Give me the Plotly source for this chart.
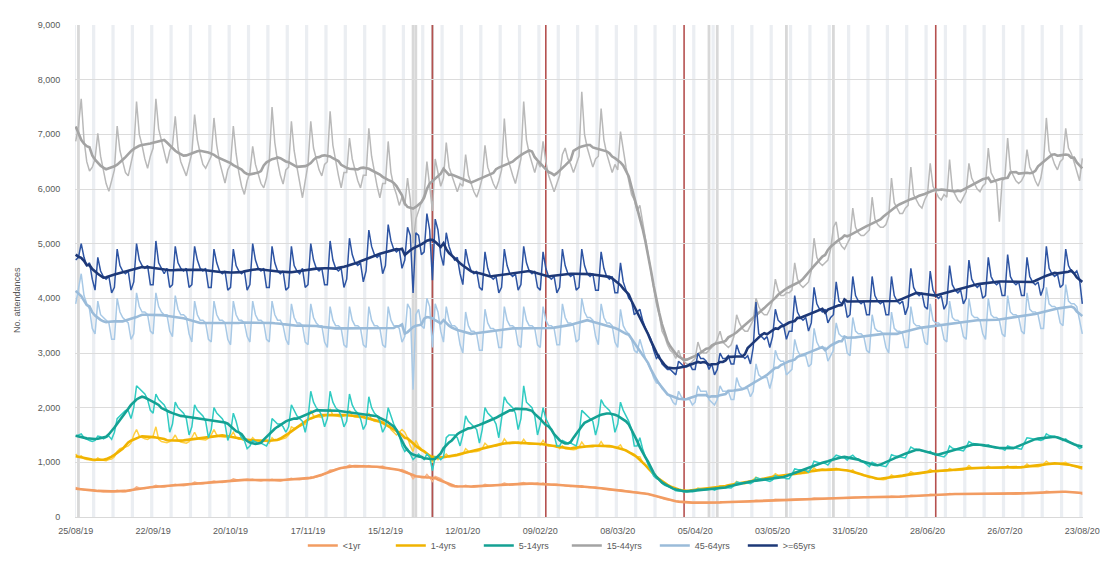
import pandas as pd
import plotly.graph_objects as go

start_date = "2019-08-25"
end_date = "2020-08-23"

series_names = ["<1yr", "1-4yrs", "5-14yrs", "15-44yrs", "45-64yrs", ">=65yrs"]

# daily attendances, one row per week (Sun..Sat), last value = Sun 23/08/20
lt1 = [
 540,520,510,500,500,490,500, 480,480,470,460,460,460,470, 470,490,470,460,460,470,480,
 510,550,530,520,520,530,540, 560,580,560,550,550,560,570, 580,600,580,570,570,580,590,
 610,640,620,610,610,620,630, 640,660,640,630,630,640,650, 670,700,680,670,670,680,690,
 680,690,670,660,660,670,680, 670,690,670,660,660,670,680, 690,710,690,680,680,690,700,
 700,730,720,730,740,760,780, 820,860,860,870,880,890,910, 920,950,930,920,920,930,940,
 920,940,920,910,910,920,930, 900,900,880,870,860,860,870, 850,820,780,700,750,730,720,
 720,780,720,650,740,720,700, 660,620,580,560,550,550,560, 560,580,560,550,550,555,560,
 570,600,580,570,575,580,590, 600,620,600,590,590,600,610, 610,630,610,600,600,610,620,
 600,620,600,590,590,600,600, 580,590,570,560,560,565,570, 560,570,550,540,540,545,550,
 530,530,515,505,500,500,505, 500,500,485,475,470,465,465, 460,455,440,430,420,410,400,
 380,360,340,325,315,305,295, 285,280,272,268,265,262,262, 262,265,262,260,258,255,258,
 262,265,270,270,270,272,275, 275,285,280,280,280,282,285, 292,305,300,300,300,302,305,
 312,325,320,320,318,315,322, 325,338,330,330,328,330,332, 335,348,340,338,338,340,342,
 345,350,355,350,348,350,352, 355,368,360,358,358,360,362, 358,368,360,358,358,360,362,
 365,378,370,368,368,370,372, 382,398,390,388,388,390,392, 400,418,410,408,408,410,412,
 412,428,420,418,418,420,422, 415,428,420,418,418,420,422, 415,428,420,418,418,420,422,
 415,430,420,418,416,418,420, 430,450,440,438,438,440,442, 452,470,460,458,458,460,462,
 460,472,462,458,455,450,445, 410]

y1_4 = [
 1150,1100,1120,1070,1050,1040,1040, 1030,1080,1050,1040,1030,1050,1060, 1100,1200,1250,1260,1280,1300,1350,
 1500,1600,1480,1450,1430,1420,1450, 1480,1650,1420,1380,1370,1360,1380, 1420,1500,1400,1370,1360,1350,1380,
 1450,1550,1450,1420,1420,1410,1440, 1500,1600,1500,1470,1460,1460,1480, 1480,1550,1450,1420,1420,1400,1400,
 1380,1450,1400,1400,1380,1380,1400, 1350,1450,1400,1400,1420,1430,1450, 1500,1650,1620,1640,1670,1680,1700,
 1780,1950,1850,1830,1830,1820,1850, 1880,1980,1860,1850,1840,1830,1850, 1870,1950,1850,1830,1820,1820,1840,
 1800,1900,1780,1750,1740,1740,1760, 1700,1750,1600,1550,1500,1550,1600, 1550,1450,1300,1200,1400,1300,1250,
 1200,1150,1100,1000,1100,1050,1100, 1100,1150,1100,1100,1110,1120,1130, 1150,1250,1200,1190,1190,1200,1210,
 1250,1350,1300,1290,1290,1300,1310, 1330,1430,1360,1340,1340,1350,1370, 1340,1420,1350,1330,1330,1340,1340,
 1320,1400,1320,1300,1300,1300,1310, 1250,1300,1250,1240,1240,1230,1240, 1280,1370,1300,1290,1280,1280,1300,
 1300,1380,1300,1290,1280,1280,1270, 1280,1320,1230,1200,1180,1170,1150, 1100,1100,1000,950,880,830,780,
 720,700,640,600,580,560,540, 500,500,480,470,470,470,470, 490,530,520,520,520,510,520,
 530,540,570,560,560,560,570, 600,650,620,610,610,620,630, 680,730,700,690,690,700,710,
 740,790,760,750,750,760,770, 780,830,800,790,790,800,810, 840,900,860,850,850,860,870,
 870,880,890,870,860,860,860, 840,860,810,790,780,770,750, 720,730,700,690,680,680,690,
 720,770,740,730,730,740,750, 780,830,800,790,790,800,810, 830,870,840,830,830,840,850,
 850,890,860,850,850,860,860, 890,940,900,890,890,890,900, 900,930,900,890,890,890,900,
 900,940,900,890,890,890,900, 920,970,930,920,920,920,930, 970,1020,980,970,970,970,980,
 980,1000,960,940,930,920,900, 870]

y5_14 = [
 1480,1500,1520,1450,1420,1400,1380, 1400,1480,1470,1430,1450,1480,1420, 1550,1800,1850,1900,1950,1950,1800,
 2000,2400,2350,2300,2250,2150,1950, 1900,2250,2150,2100,2050,1950,1550, 1700,2100,2000,1950,1900,1800,1500,
 1650,2050,1950,1900,1850,1750,1450, 1600,2000,1900,1850,1800,1700,1400, 1550,1900,1750,1550,1450,1400,1250,
 1300,1400,1380,1350,1350,1320,1300, 1400,1800,1750,1700,1700,1650,1550, 1650,2050,1950,1850,1800,1750,1550,
 1800,2300,2100,2000,1950,1850,1650, 1800,2300,2100,2000,1950,1850,1650, 1750,2250,2050,1950,1900,1800,1600,
 1700,2200,2000,1900,1850,1750,1550, 1650,2000,1850,1700,1600,1500,1300, 1200,1250,1150,1050,1100,1150,1100,
 1050,1150,1100,850,1100,1100,1050, 1100,1450,1500,1500,1500,1450,1300, 1500,1850,1750,1700,1650,1600,1350,
 1600,2000,1900,1850,1800,1700,1450, 1800,2200,2100,2050,2000,1900,1600, 1800,2400,2100,2050,2000,1850,1500,
 1700,2000,1800,1700,1600,1500,1300, 1300,1400,1380,1350,1350,1330,1300, 1500,1950,1900,1850,1800,1750,1500,
 1700,2150,2050,2000,1950,1850,1550, 1700,2100,1950,1850,1750,1600,1300, 1300,1450,1250,1100,950,850,750,
 700,680,620,580,560,540,520, 480,480,470,460,470,470,460, 470,510,500,500,500,500,510,
 490,520,540,540,540,540,530, 570,640,630,630,630,620,610, 640,720,700,690,680,670,650,
 680,760,730,730,720,700,700, 780,880,870,860,860,850,820, 900,1020,1000,990,990,980,950,
 1020,1080,1130,1110,1100,1080,1040, 1100,1130,1080,1050,1030,1000,960, 920,1000,970,950,940,930,920,
 1000,1140,1120,1110,1110,1100,1080, 1180,1280,1250,1240,1230,1220,1200, 1180,1200,1150,1140,1130,1120,1100,
 1150,1300,1260,1240,1230,1220,1210, 1280,1380,1350,1340,1330,1320,1300, 1300,1320,1290,1270,1260,1250,1250,
 1220,1300,1280,1270,1260,1250,1240, 1350,1450,1440,1430,1420,1410,1400, 1420,1520,1490,1480,1470,1460,1450,
 1400,1430,1380,1350,1320,1300,1250, 1280]

y15_44 = [
 6870,7150,7650,6900,6500,6330,6400, 6550,7020,6600,6350,6100,5960,6150, 6350,7150,6700,6500,6300,6240,6500,
 6700,7600,7000,6800,6550,6380,6600, 6750,7650,7100,6900,6650,6470,6700, 6800,7330,6750,6500,6350,6240,6450,
 6650,7360,6900,6650,6450,6380,6500, 6600,7300,6800,6500,6300,6110,6350, 6450,7150,6650,6300,6050,5900,6150,
 6300,6780,6450,6250,6100,6020,6200, 6500,7500,6850,6500,6250,6090,6350, 6400,7240,6700,6400,6100,5840,6150,
 6450,7240,6750,6550,6350,6240,6450, 6500,7420,6800,6500,6250,6020,6300, 6300,6930,6550,6350,6150,6020,6250,
 6250,7110,6600,6300,6050,5840,6100, 6100,6870,6300,6050,5900,5700,5850, 5700,6200,5800,5000,5450,5600,5750,
 5900,6500,6100,5600,6550,6300,6050, 6200,6850,6400,6250,6100,5950,6100, 6050,6630,6250,6100,5950,5850,6000,
 6200,6800,6400,6250,6100,6000,6150, 6350,7290,6600,6400,6250,6100,6300, 6550,7600,6900,6650,6450,6300,6500,
 6400,6870,6500,6250,6100,5950,6100, 6250,6630,6750,6550,6450,6300,6450, 6600,7780,7000,6750,6550,6400,6550,
 6600,7470,6900,6650,6450,6300,6450, 6350,7050,6700,6400,6150,5900,5800, 5600,5700,5400,5100,4800,4500,4200,
 3900,3700,3400,3300,3150,3050,3000, 2900,3050,2900,2850,2800,2800,2850, 2900,3200,3050,3000,3000,3050,3100,
 3150,3250,3400,3200,3150,3100,3150, 3300,3700,3550,3450,3400,3400,3500, 3600,4000,3850,3750,3700,3700,3800,
 3950,4350,4150,4050,4050,4100,4100, 4150,4650,4350,4250,4200,4250,4300, 4500,5100,4750,4650,4600,4650,4700,
 4900,5300,5400,5050,4950,4900,5000, 5100,5650,5300,5200,5150,5150,5200, 5250,5850,5450,5350,5300,5300,5350,
 5500,6200,5750,5650,5550,5550,5650, 5700,6400,5900,5800,5700,5650,5800, 5900,6470,6050,5950,5850,5800,5900,
 5850,6540,6000,5900,5800,5750,5850, 5950,6470,6200,6100,6000,5950,6050, 6100,6750,6300,6200,6100,5400,6150,
 6200,6930,6350,6250,6150,6100,6150, 6250,6720,6400,6300,6150,6050,6200, 6500,7300,6700,6600,6450,6350,6500,
 6550,7110,6750,6650,6500,6300,6150, 6560]

y45_64 = [
 3900,4150,4450,4050,3900,3800,3450, 3350,3950,3700,3650,3600,3550,3250, 3250,4000,3750,3650,3600,3550,3250,
 3350,4100,3850,3750,3750,3700,3400, 3350,4100,3850,3750,3700,3700,3400, 3300,4050,3800,3700,3700,3650,3350,
 3200,3950,3700,3600,3600,3550,3250, 3200,3950,3700,3600,3600,3550,3250, 3150,3950,3700,3600,3600,3550,3300,
 3200,3950,3700,3600,3600,3550,3250, 3200,3950,3700,3600,3600,3500,3250, 3150,3900,3650,3550,3550,3500,3200,
 3150,3900,3650,3550,3500,3500,3200, 3100,3850,3600,3500,3500,3450,3150, 3100,3850,3600,3500,3500,3450,3150,
 3100,3850,3600,3500,3500,3450,3150, 3100,3850,3600,3500,3500,3450,3200, 3300,3900,3800,2330,3700,3800,3500,
 3450,4000,3850,3100,3900,3750,3400, 3200,3850,3600,3500,3500,3450,3150, 3000,3750,3500,3400,3400,3350,3050,
 3050,3800,3550,3450,3450,3400,3100, 3100,3850,3600,3500,3500,3450,3150, 3100,3850,3600,3500,3500,3450,3150,
 3100,3850,3600,3500,3500,3450,3150, 3150,3900,3650,3550,3550,3500,3200, 3250,4000,3750,3650,3650,3600,3300,
 3150,3900,3650,3550,3550,3500,3200, 3100,3800,3500,3400,3350,3250,3050, 3000,3250,3050,2900,2800,2700,2550,
 2450,2450,2350,2300,2250,2200,2100, 2050,2300,2200,2150,2150,2150,2050, 2100,2400,2300,2300,2300,2150,2100,
 2050,2150,2400,2300,2300,2300,2150, 2150,2550,2400,2350,2350,2350,2200, 2300,2800,2600,2550,2550,2550,2350,
 2550,3050,2900,2850,2850,2600,2650, 2700,3250,3050,2950,2950,2950,2750, 2800,3450,3200,3100,3100,3100,2850,
 2950,3050,3550,3350,3300,3300,3000, 2950,3650,3400,3350,3350,3300,3050, 3000,3700,3450,3400,3400,3350,3100,
 3000,3750,3450,3400,3400,3350,3100, 3100,3850,3550,3500,3500,3450,3200, 3150,3900,3600,3550,3550,3500,3250,
 3200,3950,3650,3600,3600,3550,3300, 3250,4000,3700,3650,3650,3600,3350, 3250,4000,3700,3650,3650,3600,3350,
 3300,4050,3750,3700,3700,3650,3400, 3350,4100,3800,3750,3750,3700,3450, 3450,4200,3900,3850,3850,3800,3550,
 3500,4250,3950,3900,3900,3850,3600, 3350]

y65 = [
 4700,4750,5000,4750,4600,4650,4350, 4150,4750,4500,4400,4350,4400,4100, 4200,4900,4600,4500,4450,4500,4150,
 4300,5000,4700,4600,4550,4600,4250, 4250,5050,4650,4550,4450,4550,4200, 4250,4950,4650,4550,4500,4550,4200,
 4250,4950,4700,4550,4500,4550,4200, 4200,4900,4650,4500,4450,4500,4150, 4200,4900,4600,4500,4450,4500,4150,
 4250,5000,4700,4550,4500,4550,4200, 4200,4950,4650,4500,4450,4500,4150, 4200,4950,4600,4500,4450,4550,4200,
 4250,5000,4700,4550,4500,4550,4250, 4250,5050,4700,4550,4500,4550,4200, 4350,5100,4800,4650,4600,4650,4300,
 4500,5250,4950,4800,4750,4800,4450, 4600,5350,5050,4900,4850,4900,4550, 4700,5300,5150,4100,5200,5150,4800,
 4850,5550,5250,4330,5450,5250,4800, 4600,5200,4950,4800,4700,4750,4450, 4250,4900,4650,4500,4450,4500,4200,
 4150,4850,4550,4400,4350,4400,4100, 4200,4900,4600,4450,4400,4450,4150, 4250,4950,4650,4500,4450,4500,4200,
 4150,4850,4550,4400,4350,4400,4100, 4200,4900,4600,4450,4400,4450,4150, 4200,4900,4600,4450,4400,4450,4150,
 4150,4850,4550,4400,4350,4400,4100, 4100,4650,4300,4150,4000,3950,3700, 3750,3800,3600,3450,3350,3250,3050,
 2900,2950,2800,2750,2700,2700,2650, 2600,2850,2800,2750,2750,2800,2700, 2700,3000,2900,2900,2850,2700,2800,
 2600,2700,3000,2900,2900,2950,2800, 2800,3150,3000,2950,2900,2950,2800, 3100,3930,3350,3300,3250,3300,3100,
 3300,3800,3600,3550,3500,3250,3400, 3400,4050,3750,3650,3600,3650,3400, 3550,4200,3900,3800,3750,3800,3550,
 3650,3700,4300,3950,3900,3950,3650, 3700,4400,4050,3950,3900,3950,3700, 3700,4400,4050,3950,3900,3950,3700,
 3700,4400,4050,3950,3900,3950,3700, 3850,4550,4200,4100,4050,4100,3850, 3800,4500,4150,4050,4000,4050,3800,
 3900,4600,4250,4150,4100,4150,3900, 4000,4700,4350,4250,4200,4250,4000, 4050,4750,4400,4300,4250,4300,4050,
 4050,4800,4400,4300,4250,4300,4050, 4050,4750,4400,4300,4250,4300,4050, 4200,4950,4550,4450,4400,4450,4200,
 4250,4900,4600,4500,4450,4500,4350, 3900]

bank_holidays = ["2019-08-26", "2019-12-25", "2019-12-26", "2020-01-01",
                 "2020-04-10", "2020-04-13", "2020-05-08", "2020-05-25"]
marker_dates = ["2020-01-01", "2020-02-11", "2020-04-01", "2020-07-01"]

daily_colors = ["#f7b488", "#ffcf40", "#30cbc2", "#b9b9b9", "#a8c9e6", "#2d54a3"]
avg_colors = ["#f29c62", "#f0b300", "#14a193", "#a3a3a3", "#9abbd9", "#1d3877"]

dates = pd.date_range(start_date, end_date, freq="D")
all_series = [lt1, y1_4, y5_14, y15_44, y45_64, y65]

fig = go.Figure()
for name, vals, dc, ac in zip(series_names, all_series, daily_colors, avg_colors):
    s = pd.Series(vals, index=dates)
    fig.add_trace(go.Scatter(x=dates, y=s, mode="lines", line=dict(color=dc, width=1.5),
                             legendgroup=name, showlegend=False, hoverinfo="skip"))
    fig.add_trace(go.Scatter(x=dates, y=s.rolling(7, center=True, min_periods=1).mean(),
                             mode="lines", name=name, legendgroup=name,
                             line=dict(color=ac, width=2.6)))

shapes = []
# weekend bands (Sat-Sun)
for sat in pd.date_range("2019-08-24", end_date, freq="W-SAT"):
    shapes.append(dict(type="rect", xref="x", yref="paper", layer="below",
                       x0=sat - pd.Timedelta(hours=2), x1=sat + pd.Timedelta(hours=26),
                       y0=0, y1=1, line_width=0, fillcolor="#ebeef2"))
# bank holidays
for bh in pd.to_datetime(bank_holidays):
    shapes.append(dict(type="rect", xref="x", yref="paper", layer="below",
                       x0=bh - pd.Timedelta(hours=12), x1=bh + pd.Timedelta(hours=12),
                       y0=0, y1=1, line_width=0, fillcolor="#d8d8d8"))
for md in marker_dates:
    shapes.append(dict(type="line", xref="x", yref="paper", layer="below",
                       x0=md, x1=md, y0=0, y1=1, line=dict(color="#b5514f", width=1.6)))

# the page body adds an 8px offset; width/height/margins compensate for it
fig.update_layout(
    width=1105, height=564,
    margin=dict(l=67, r=30, t=15, b=54),
    paper_bgcolor="white", plot_bgcolor="white",
    font=dict(family="Liberation Sans, Arial, sans-serif", size=9, color="#595959"),
    shapes=shapes,
    showlegend=True,
    legend=dict(orientation="h", x=0.226, xanchor="left", y=-0.058, yanchor="middle",
                font=dict(size=9, color="#595959"), itemwidth=30, entrywidth=43,
                bgcolor="rgba(0,0,0,0)"),
    annotations=[dict(text="No. attendances", xref="paper", yref="paper",
                      x=-0.058, y=0.44, textangle=-90, showarrow=False,
                      xanchor="center", yanchor="middle",
                      font=dict(size=9, color="#595959"))],
)
fig.update_xaxes(type="date", range=[pd.Timestamp(start_date) - pd.Timedelta(hours=6),
                                     pd.Timestamp(end_date) + pd.Timedelta(hours=6)],
                 tick0=start_date, dtick=28 * 86400000, tickformat="%d/%m/%y",
                 showgrid=False, showline=True, linecolor="#d9d9d9", linewidth=1,
                 ticks="outside", ticklen=5, tickcolor="rgba(0,0,0,0)",
                 tickfont=dict(size=9, color="#595959"), zeroline=False)
fig.update_yaxes(range=[0, 9000], dtick=1000, tickformat=",d",
                 showgrid=True, gridcolor="#dcdcdc", gridwidth=1, zeroline=False,
                 showline=False, ticks="outside", ticklen=12, tickcolor="rgba(0,0,0,0)",
                 tickfont=dict(size=9, color="#595959"))

fig.write_html("out.html")
